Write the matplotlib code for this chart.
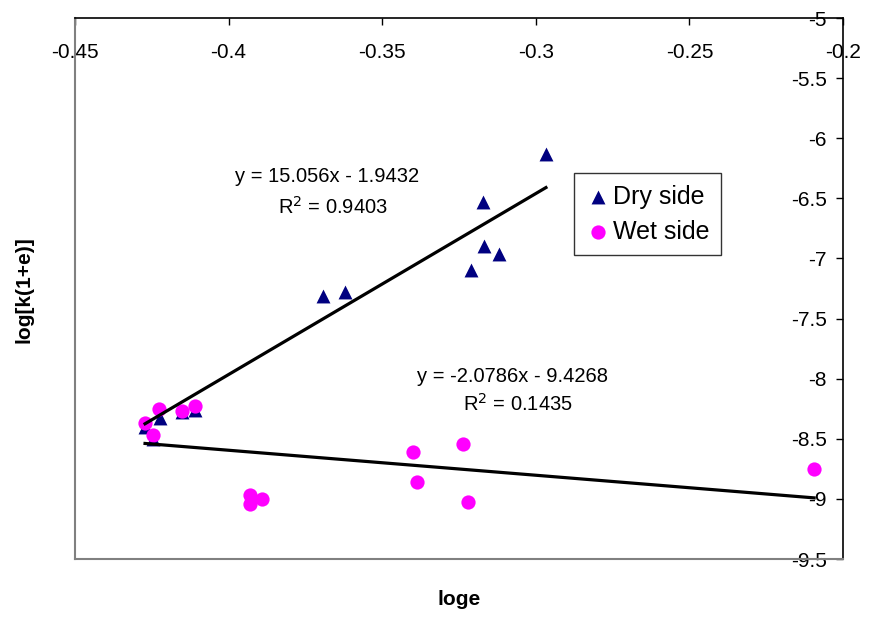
import matplotlib
matplotlib.use("Agg")
import numpy as np
import matplotlib.pyplot as plt

plt.rcParams["font.family"] = ["Liberation Sans", "DejaVu Sans"]

# Dry side points (loge, log[k(1+e)])
dry_x = [-0.4272, -0.4246, -0.4223, -0.4152, -0.4109, -0.3693, -0.3621,
         -0.3211, -0.3172, -0.3169, -0.3120, -0.2967]
dry_y = [-8.40, -8.50, -8.33, -8.28, -8.26, -7.31, -7.28,
         -7.10, -6.53, -6.90, -6.96, -6.13]

# Wet side points
wet_x = [-0.4272, -0.4227, -0.4246, -0.4152, -0.4109, -0.3930, -0.3930,
         -0.3891, -0.3400, -0.3387, -0.3237, -0.3221, -0.2094]
wet_y = [-8.37, -8.25, -8.47, -8.27, -8.23, -8.97, -9.04,
         -9.00, -8.61, -8.86, -8.54, -9.03, -8.75]

# trendline coefficients shown on the chart
dry_fit = (15.056, -1.9432)
wet_fit = (-2.0786, -9.4268)
dry_r2 = 0.9403
wet_r2 = 0.1435

x_ticks = [-0.45, -0.4, -0.35, -0.3, -0.25, -0.2]
y_ticks = [-5, -5.5, -6, -6.5, -7, -7.5, -8, -8.5, -9, -9.5]

fig = plt.figure(figsize=(8.69, 6.17), dpi=100)
ax = fig.add_axes([0.0863, 0.0940, 0.8838, 0.8768])

ax.scatter(dry_x, dry_y, marker="^", s=100, color="#000080", zorder=3,
           label="Dry side", linewidths=0)
ax.scatter(wet_x, wet_y, marker="o", s=105, color="#FF00FF", zorder=4,
           label="Wet side", linewidths=0)

xd = np.array([min(dry_x), max(dry_x)])
ax.plot(xd, dry_fit[0] * xd + dry_fit[1], color="black", lw=2.3, zorder=5)
xw = np.array([min(wet_x), max(wet_x)])
ax.plot(xw, wet_fit[0] * xw + wet_fit[1], color="black", lw=2.3, zorder=5)

ax.set_xlim(-0.45, -0.2)
ax.set_ylim(-9.5, -5)
ax.set_xticks(x_ticks)
ax.set_xticklabels(["%g" % v for v in x_ticks])
ax.set_yticks(y_ticks)
ax.set_yticklabels(["%g" % v for v in y_ticks])

# x axis along the top, labels hanging inside the plot
ax.tick_params(axis="x", bottom=False, top=True, labelbottom=False, labeltop=True,
               direction="in", length=5, width=1, pad=-18, labelsize=15)
# y axis along the right, labels inside on the left of it
ax.tick_params(axis="y", left=False, right=True, labelleft=False, labelright=True,
               direction="in", length=5, width=1, pad=-11.5, labelsize=15)
for lab in ax.get_yticklabels():
    lab.set_horizontalalignment("right")
for lab in ax.get_xticklabels():
    lab.set_verticalalignment("top")

ax.spines["top"].set_color("black")
ax.spines["right"].set_color("black")
ax.spines["top"].set_linewidth(1.2)
ax.spines["right"].set_linewidth(1.2)
ax.spines["left"].set_color("#808080")
ax.spines["bottom"].set_color("#808080")
ax.spines["left"].set_linewidth(1.5)
ax.spines["bottom"].set_linewidth(1.5)

fig.text(0.028, 0.530, "log[k(1+e)]", rotation=90, fontsize=15, fontweight="bold",
         ha="center", va="center")
fig.text(0.528, 0.028, "loge", fontsize=15, fontweight="bold", ha="center", va="center")

ax.text(-0.3979, -6.32, "y = 15.056x - 1.9432", fontsize=14.5, ha="left", va="center")
ax.text(-0.3839, -6.57, "R$^2$ = 0.9403", fontsize=14.5, ha="left", va="center")
ax.text(-0.3387, -7.98, "y = -2.0786x - 9.4268", fontsize=14.5, ha="left", va="center")
ax.text(-0.3237, -8.21, "R$^2$ = 0.1435", fontsize=14.5, ha="left", va="center")

leg = ax.legend(loc="upper left", bbox_to_anchor=(0.65, 0.713), borderaxespad=0,
                fontsize=18, frameon=True, fancybox=False, edgecolor="black",
                handletextpad=0.1, handlelength=1.0, borderpad=0.45,
                labelspacing=0.45, markerscale=1.0)
leg.get_frame().set_linewidth(1.0)

fig.savefig("out.png", dpi=100)
